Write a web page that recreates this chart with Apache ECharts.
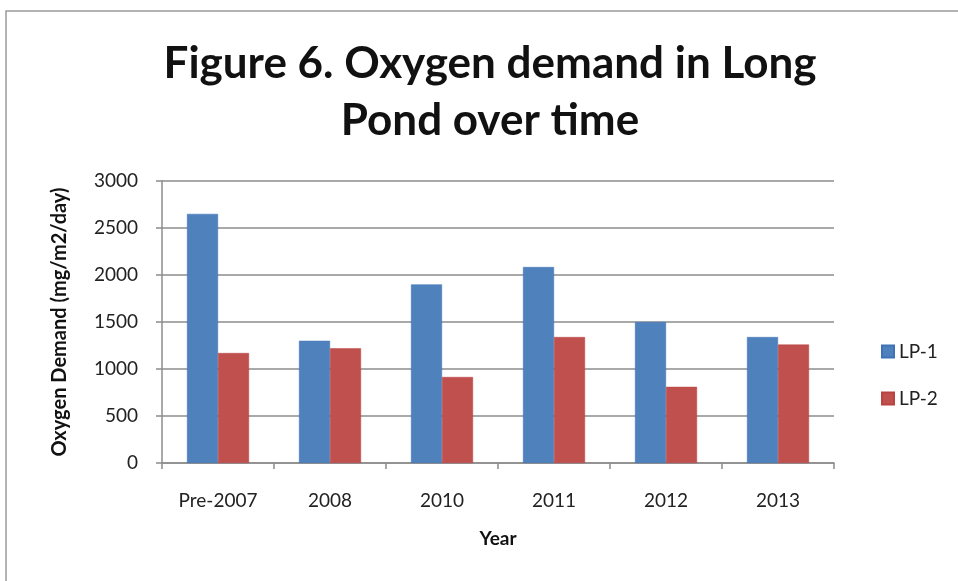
<!DOCTYPE html>
<html>
<head>
<meta charset="utf-8">
<script src="https://cdn.jsdelivr.net/npm/echarts@6/dist/echarts.min.js"></script>
<style>
html, body { margin: 0; padding: 0; background: #fff; }
#result { width: 958px; height: 581px; }
</style>
</head>
<body>
<div id="result"></div>
<script>
var years = ['Pre-2007', '2008', '2010', '2011', '2012', '2013'];
var lp1 = [2650, 1300, 1900, 2085, 1500, 1340];
var lp2 = [1170, 1220, 915, 1340, 810, 1260];

var myChart = echarts.init(document.getElementById('result'));

var font = 'Lato';
var axisGray = '#8c8c8c';

var option = {
	backgroundColor: '#fff',
	textStyle: {
		fontFamily: font
	},
	graphic: [{
		type: 'rect',
		shape: { x: 6, y: 11, width: 960, height: 580 },
		style: { fill: 'none', stroke: '#9a9a9a', lineWidth: 1.5 },
		silent: true
	}],
	title: {
		text: 'Figure 6. Oxygen demand in Long\nPond over time',
		left: 485,
		textAlign: 'center',
		top: 30,
		textStyle: {
			fontFamily: font,
			fontSize: 44,
			fontWeight: 'bold',
			color: '#111',
			lineHeight: 57
		}
	},
	legend: {
		orient: 'vertical',
		left: 876,
		top: 337,
		itemWidth: 12,
		itemHeight: 12,
		itemGap: 28,
		icon: 'rect',
		textStyle: { fontSize: 19, color: '#222', fontFamily: font },
		data: ['LP-1', 'LP-2']
	},
	grid: {
		left: 162,
		right: 124,
		top: 181,
		bottom: 118
	},
	xAxis: {
		type: 'category',
		data: years,
		name: 'Year',
		nameLocation: 'middle',
		nameGap: 66,
		nameTextStyle: { fontSize: 19, fontWeight: 'bold', color: '#111' },
		axisLine: { lineStyle: { color: axisGray, width: 1.5 } },
		axisTick: { show: true, length: 6, lineStyle: { color: axisGray, width: 1.5 } },
		axisLabel: { fontSize: 19, color: '#222', margin: 28 }
	},
	yAxis: {
		type: 'value',
		min: 0,
		max: 3000,
		interval: 500,
		name: 'Oxygen Demand (mg/m2/day)',
		nameLocation: 'middle',
		nameGap: 92,
		nameTextStyle: { fontSize: 20, fontWeight: 'bold', color: '#111' },
		axisLine: { show: true, lineStyle: { color: axisGray, width: 1.5 } },
		axisTick: { show: true, length: 6, lineStyle: { color: axisGray, width: 1.5 } },
		axisLabel: {
			fontSize: 19,
			color: '#222',
			margin: 24,
			formatter: function (v) { return String(v); }
		},
		splitLine: { lineStyle: { color: axisGray, width: 1.5 } }
	},
	series: [{
		name: 'LP-1',
		type: 'bar',
		data: lp1,
		barWidth: 31,
		barGap: '0%',
		itemStyle: { color: '#4f81bd', borderColor: '#3f73b5', borderWidth: 0.5 }
	}, {
		name: 'LP-2',
		type: 'bar',
		data: lp2,
		barWidth: 31,
		itemStyle: { color: '#c0504d', borderColor: '#b84340', borderWidth: 0.5 }
	}]
};

myChart.setOption(option);
</script>
</body>
</html>
